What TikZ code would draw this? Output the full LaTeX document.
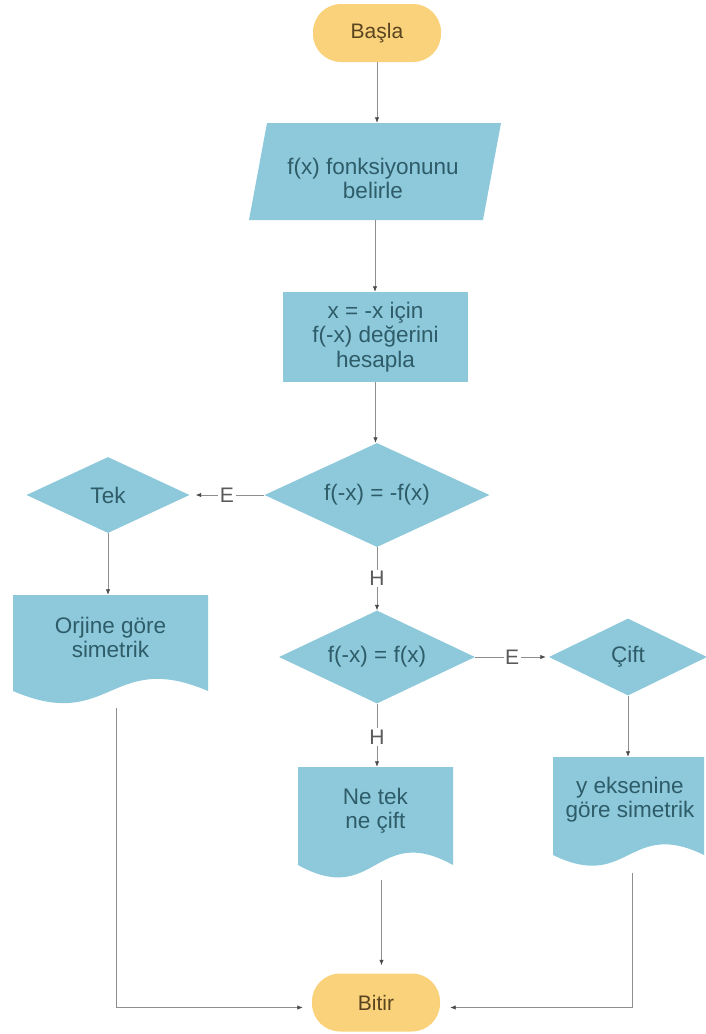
\documentclass[tikz,border=0pt]{standalone}
\usepackage{fontspec}
\setmainfont{Liberation Sans}
\usetikzlibrary{shapes.geometric,arrows.meta}
\definecolor{boxblue}{HTML}{8DC9DB}
\definecolor{termyel}{HTML}{F9D27B}
\definecolor{bluetext}{HTML}{2E5C68}
\definecolor{yeltext}{HTML}{5A4420}
\definecolor{linegray}{HTML}{8E8E8E}
\definecolor{tipgray}{HTML}{4A4A4A}
\definecolor{labelgray}{HTML}{5A5A5A}
\begin{document}
\begin{tikzpicture}[x=1pt,y=-1pt,
  term/.style={rectangle, rounded corners=28pt, fill=termyel, text=yeltext,
    font=\fontsize{21}{24}\selectfont, minimum width=128pt, minimum height=58pt, inner sep=0pt},
  proc/.style={rectangle, fill=boxblue, text=bluetext, align=center,
    font=\fontsize{22.5}{24.5}\selectfont, inner sep=0pt},
  dec/.style={diamond, fill=boxblue, text=bluetext, aspect=2.1,
    font=\fontsize{22.5}{24.5}\selectfont, inner sep=0pt},
  area/.style={rectangle, inner sep=0pt},
  txt/.style={text=bluetext, align=center, font=\fontsize{22.5}{24}\selectfont, inner sep=0pt},
  conn/.style={draw=linegray, line width=0.8pt, -{Latex[length=5.5pt,width=4.5pt,color=tipgray]}},
  lbl/.style={fill=white, text=labelgray, font=\fontsize{21}{24}\selectfont, inner sep=1.5pt}
]
\path[use as bounding box] (0,0) rectangle (706,1034);

% terminators
\node[term] (basla) at (377,33) {Başla};
\node[term] (bitir) at (376,1002.5) {Bitir};

% input (parallelogram)
\fill[boxblue] (267,123) -- (501,123) -- (483,220) -- (249,220) -- cycle;
\node[area, minimum width=234pt, minimum height=97pt] (input) at (375,171.5) {};
\node[txt] (inputtxt) at (373,178) {f(x) fonksiyonunu\\belirle};

% process
\node[proc, minimum width=185pt, minimum height=90pt] (calc) at (375.5,337)
  {x = -x için\\f(-x) değerini\\hesapla};

% decisions
\node[dec, minimum width=225pt, minimum height=104pt] (d1) at (377,495) {f(-x) = -f(x)};
\node[dec, minimum width=163pt, minimum height=76pt] (tek) at (108,495) {Tek};
\node[dec, minimum width=196pt, minimum height=93pt] (d2) at (377,657) {f(-x) = f(x)};
\node[dec, minimum width=158pt, minimum height=77pt] (cift) at (628,657) {Çift};

% documents
\fill[boxblue] (13,595) -- (208,595) -- (208,691)
  .. controls (110.5,649) and (110.5,733) .. (13,691) -- cycle;
\node[area, minimum width=195pt, minimum height=108pt] (orjine) at (110.5,649) {};
\node[txt] (orjinetxt) at (110.5,637) {Orjine göre\\simetrik};

\fill[boxblue] (298,767) -- (453,767) -- (453,865)
  .. controls (375.5,822) and (375.5,908) .. (298,865) -- cycle;
\node[area, minimum width=155pt, minimum height=110pt] (netek) at (375.5,822) {};
\node[txt] (netektxt) at (375.5,811) {Ne tek\\ne çift};

\fill[boxblue] (553,757) -- (704,757) -- (704,855)
  .. controls (628.5,818) and (628.5,892) .. (553,855) -- cycle;
\node[area, minimum width=151pt, minimum height=108pt] (ydoc) at (628.5,811) {};
\node[txt] (ydoctxt) at (630,800) {y eksenine\\göre simetrik};

% connectors
\draw[conn] (basla.south) -- (basla.south |- input.north);
\draw[conn] (input.south) -- (input.south |- calc.north);
\draw[conn] (calc.south) -- (calc.south |- d1.north);
\draw[conn, shorten >=6pt] (d1.west) -- node[lbl] {E} (tek.east);
\draw[conn] (d1.south) -- node[lbl] {H} (d2.north);
\draw[conn] (tek.south) -- (tek.south |- orjine.north);
\draw[conn, shorten >=3pt] (d2.east) -- node[lbl] {E} (cift.west);
\draw[conn] (d2.south) -- node[lbl, pos=0.53] {H} (d2.south |- netek.north);
\draw[conn] (cift.south) -- (cift.south |- ydoc.north);
\draw[conn, shorten <=5pt, shorten >=9pt] ([xshift=6pt]orjine.south) |- ([yshift=-5pt]bitir.west);
\draw[conn, shorten <=3pt, shorten >=8pt] ([xshift=6pt]netek.south) -- ([xshift=6pt]netek.south |- bitir.north);
\draw[conn, shorten <=8pt, shorten >=10pt] ([xshift=4pt]ydoc.south) |- ([yshift=-5pt]bitir.east);
\end{tikzpicture}
\end{document}
